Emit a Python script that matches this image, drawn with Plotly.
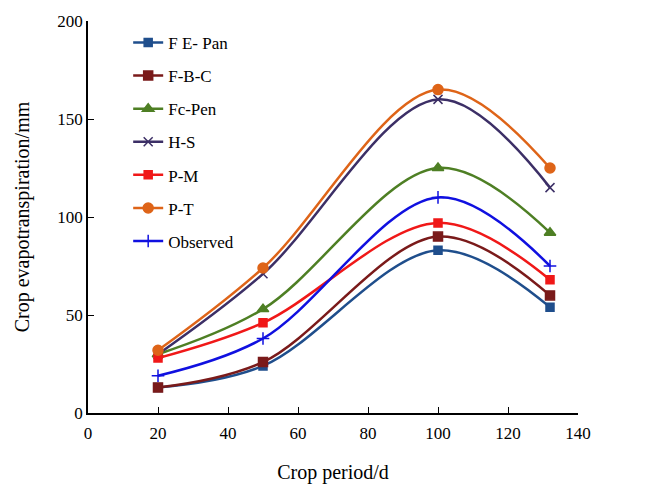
import plotly.graph_objects as go

# Crop period (days) and crop evapotranspiration (mm) by method
days = [20, 50, 100, 132]
fe_pan = [13, 24, 83, 54]
f_b_c = [13, 26, 90, 60]
fc_pen = [30, 53, 125, 92]
h_s = [30, 71, 160, 115]
p_m = [28, 46, 97, 68]
p_t = [32, 74, 165, 125]
observed = [19, 38, 110, 75]

series = [
    ("F E- Pan", fe_pan, "#1F4E8C", "square", 8),
    ("F-B-C", f_b_c, "#7A1A1A", "square", 9),
    ("Fc-Pen", fc_pen, "#4E7F24", "triangle-up", 10),
    ("H-S", h_s, "#3C2F66", "x-thin", 9),
    ("P-M", p_m, "#F01818", "square-x", 8),
    ("P-T", p_t, "#DE6418", "circle", 10),
    ("Observed", observed, "#1010E0", "cross-thin", 9),
]

fig = go.Figure()
for name, vals, color, sym, size in series:
    fig.add_trace(go.Scatter(
        x=days, y=vals, name=name, legendgroup=name,
        mode="lines+markers",
        line=dict(color=color, width=2.5, shape="spline", smoothing=1.0),
        marker=dict(symbol=sym, size=size, color=color,
                    line=dict(color=color, width=1.5)),
    ))

font = "Liberation Serif, Times New Roman, serif"
fig.update_layout(
    width=655, height=484,
    margin=dict(l=88, r=77, t=21, b=71),
    paper_bgcolor="white", plot_bgcolor="white",
    font=dict(family=font, size=17, color="black"),
    showlegend=True,
    legend=dict(x=0.082, y=0.99, xanchor="left", yanchor="top",
                bgcolor="rgba(0,0,0,0)", font=dict(size=17),
                tracegroupgap=8),
    xaxis=dict(
        range=[0, 140], dtick=20, tick0=0,
        showline=True, linecolor="black", linewidth=1.5,
        ticks="inside", ticklen=6, tickcolor="black",
        ticklabelstandoff=4,
        showgrid=False, zeroline=False, automargin=False,
        title=dict(text="Crop period/d", standoff=26),
    ),
    yaxis=dict(
        range=[0, 200], dtick=50, tick0=0,
        showline=True, linecolor="black", linewidth=1.5,
        ticks="inside", ticklen=6, tickcolor="black",
        showgrid=False, zeroline=False, automargin=False,
        title=dict(text="Crop evapotranspiration/mm", standoff=22),
    ),
)

fig.write_html("out.html")
